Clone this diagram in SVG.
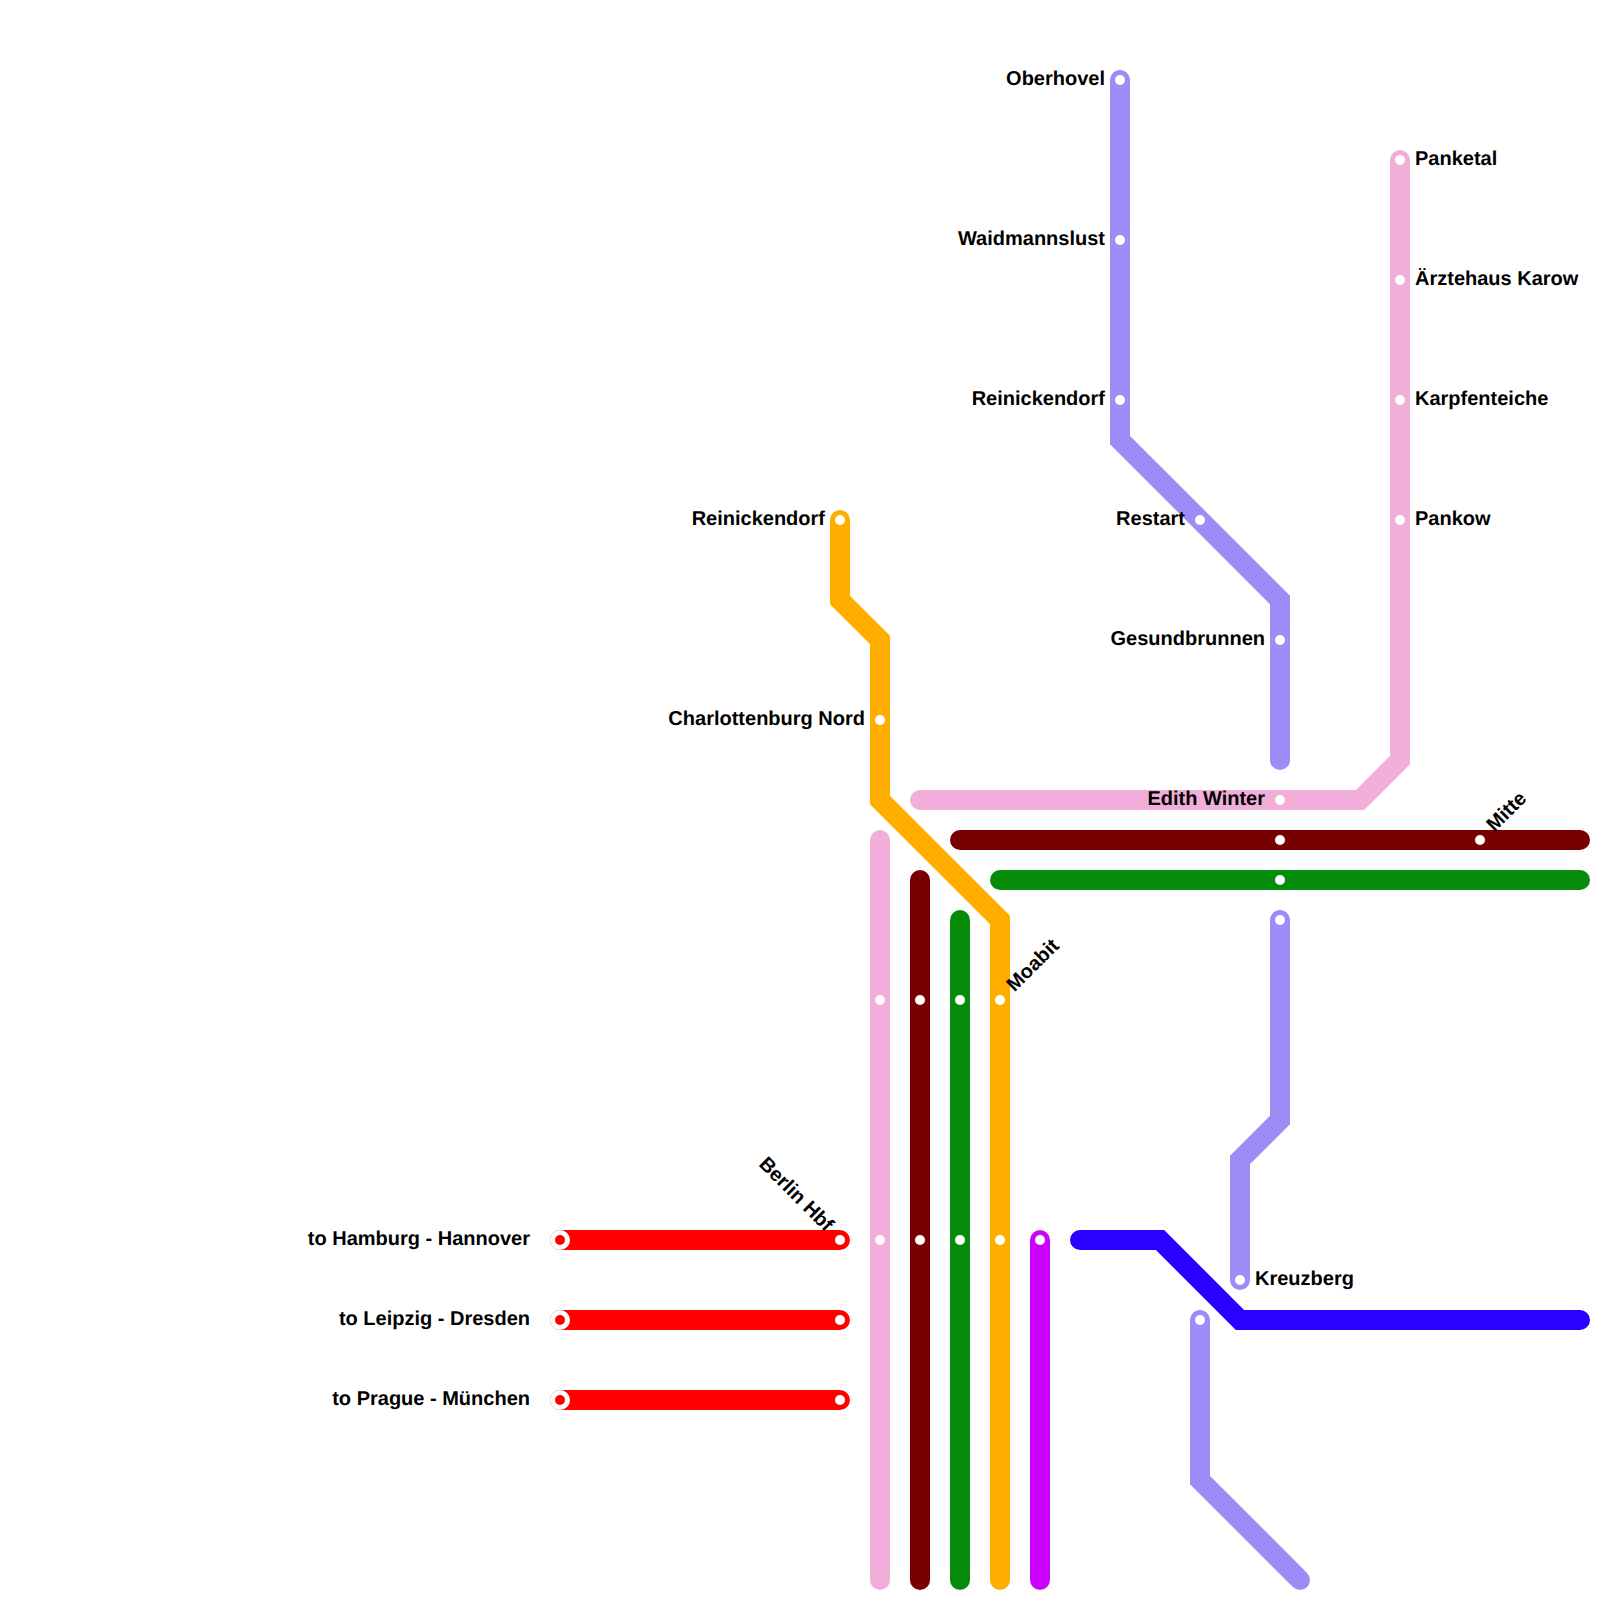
<svg xmlns="http://www.w3.org/2000/svg" width="1600" height="1600" viewBox="0 0 1600 1600">
<style>
.l{fill:none;stroke-width:20;stroke-linecap:round;stroke-linejoin:miter}
.s{fill:#fff}
.i{fill:#fff}
.d{fill:#f00}
text{font-family:"Liberation Sans",Arial,sans-serif;font-weight:bold;font-size:20px;fill:#000;text-rendering:geometricPrecision}
.e{text-anchor:end}
</style>
<rect width="1600" height="1600" fill="#fff"/>
<g id="connectors">
<path class="l" stroke="#f0aed8" d="M880 840V1580"/>
<path class="l" stroke="#770000" d="M920 880V1580"/>
<path class="l" stroke="#068c0d" d="M960 920V1580"/>
<path class="l" stroke="#ffae00" d="M840 520V600L880 640V800L1000 920V1580"/>
<path class="l" stroke="#cc00ff" d="M1040 1240V1580"/>
<path class="l" stroke="#2a00ff" d="M1080 1240H1160L1240 1320H1580"/>
<path class="l" stroke="#f0aed8" d="M1400 160V760L1360 800H920"/>
<path class="l" stroke="#770000" d="M960 840H1580"/>
<path class="l" stroke="#068c0d" d="M1000 880H1580"/>
<path class="l" stroke="#9d8bf6" d="M1120 80V440L1280 600V760"/>
<path class="l" stroke="#9d8bf6" d="M1280 920V1120L1240 1160V1280"/>
<path class="l" stroke="#9d8bf6" d="M1200 1320V1480L1300 1580"/>
<path class="l" stroke="#f00" d="M560 1240H840"/>
<path class="l" stroke="#f00" d="M560 1320H840"/>
<path class="l" stroke="#f00" d="M560 1400H840"/>
</g>
<g id="n-oberhovel"><circle class="s" cx="1120" cy="80" r="5"/><text class="e" x="1105" y="85">Oberhovel</text></g>
<g id="n-waidmannslust"><circle class="s" cx="1120" cy="240" r="5"/><text class="e" x="1105" y="245">Waidmannslust</text></g>
<g id="n-reinickendorf-1"><circle class="s" cx="1120" cy="400" r="5"/><text class="e" x="1105" y="405">Reinickendorf</text></g>
<g id="n-restart"><circle class="s" cx="1200" cy="520" r="5"/><text class="e" x="1185" y="525">Restart</text></g>
<g id="n-gesundbrunnen"><circle class="s" cx="1280" cy="640" r="5"/><text class="e" x="1265" y="645">Gesundbrunnen</text></g>
<g id="n-panketal"><circle class="s" cx="1400" cy="160" r="5"/><text x="1415" y="165">Panketal</text></g>
<g id="n-karow"><circle class="s" cx="1400" cy="280" r="5"/><text x="1415" y="285">Ärztehaus Karow</text></g>
<g id="n-karpfenteiche"><circle class="s" cx="1400" cy="400" r="5"/><text x="1415" y="405">Karpfenteiche</text></g>
<g id="n-pankow"><circle class="s" cx="1400" cy="520" r="5"/><text x="1415" y="525">Pankow</text></g>
<g id="n-reinickendorf-2"><circle class="s" cx="840" cy="520" r="5"/><text class="e" x="825" y="525">Reinickendorf</text></g>
<g id="n-charlottenburg"><circle class="s" cx="880" cy="720" r="5"/><text class="e" x="865" y="725">Charlottenburg Nord</text></g>
<g id="n-edith"><circle class="s" cx="1280" cy="800" r="5"/><circle class="s" cx="1280" cy="840" r="5"/><circle class="s" cx="1280" cy="880" r="5"/><circle class="s" cx="1280" cy="920" r="5"/><text class="e" x="1265" y="805">Edith Winter</text></g>
<g id="n-mitte"><circle class="s" cx="1480" cy="840" r="5"/><text transform="translate(1491 829) rotate(-45)" x="0" y="5">Mitte</text></g>
<g id="n-moabit"><circle class="s" cx="880" cy="1000" r="5"/><circle class="s" cx="920" cy="1000" r="5"/><circle class="s" cx="960" cy="1000" r="5"/><circle class="s" cx="1000" cy="1000" r="5"/><text transform="translate(1011 989) rotate(-45)" x="0" y="5">Moabit</text></g>
<g id="n-berlin-hbf"><circle class="s" cx="840" cy="1240" r="5"/><circle class="s" cx="880" cy="1240" r="5"/><circle class="s" cx="920" cy="1240" r="5"/><circle class="s" cx="960" cy="1240" r="5"/><circle class="s" cx="1000" cy="1240" r="5"/><circle class="s" cx="1040" cy="1240" r="5"/><text class="e" transform="translate(829 1229) rotate(45)" x="0" y="5">Berlin Hbf</text></g>
<g id="n-leipzig-end"><circle class="s" cx="840" cy="1320" r="5"/></g>
<g id="n-prague-end"><circle class="s" cx="840" cy="1400" r="5"/></g>
<g id="n-kreuzberg"><circle class="s" cx="1240" cy="1280" r="5"/><text x="1255" y="1285">Kreuzberg</text></g>
<g id="n-lower"><circle class="s" cx="1200" cy="1320" r="5"/></g>
<g id="n-hamburg"><circle class="i" cx="560" cy="1240" r="10"/><circle class="d" cx="560" cy="1240" r="5"/><text class="e" x="530" y="1245">to Hamburg - Hannover</text></g>
<g id="n-leipzig"><circle class="i" cx="560" cy="1320" r="10"/><circle class="d" cx="560" cy="1320" r="5"/><text class="e" x="530" y="1325">to Leipzig - Dresden</text></g>
<g id="n-prague"><circle class="i" cx="560" cy="1400" r="10"/><circle class="d" cx="560" cy="1400" r="5"/><text class="e" x="530" y="1405">to Prague - München</text></g>
</svg>
